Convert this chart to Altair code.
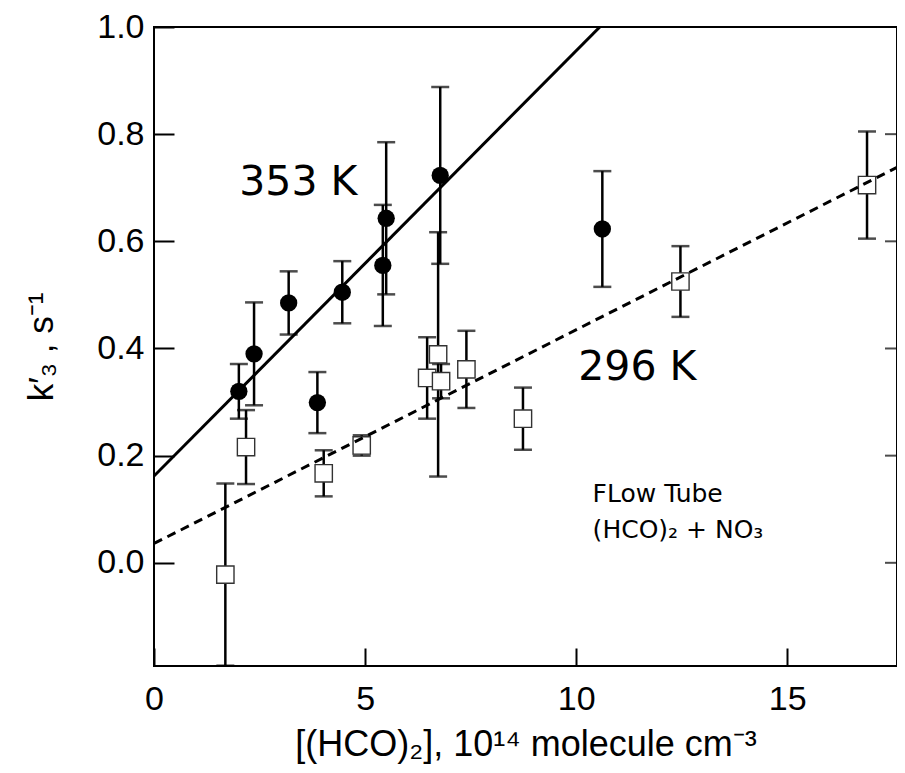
import altair as alt
import pandas as pd

# 353 K data (filled circles)
x353 = [2.01, 2.37, 3.19, 3.87, 4.46, 5.42, 5.50, 6.78, 10.62]
y353 = [0.320, 0.390, 0.485, 0.299, 0.505, 0.555, 0.643, 0.723, 0.623]
e353 = [0.051, 0.096, 0.059, 0.057, 0.058, 0.113, 0.142, 0.165, 0.108]

# 296 K data (open squares)
x296 = [1.69, 2.18, 4.02, 4.92, 6.47, 6.73, 6.80, 7.40, 8.74, 12.47, 16.89]
y296 = [-0.022, 0.216, 0.167, 0.219, 0.345, 0.389, 0.339, 0.361, 0.269, 0.525, 0.705]
e296 = [0.170, 0.069, 0.043, 0.019, 0.076, 0.228, 0.032, 0.072, 0.058, 0.066, 0.100]

# fitted lines (end points)
fit353_x = [0.0, 10.56]
fit353_y = [0.162, 1.0]
fit296_x = [0.0, 17.6]
fit296_y = [0.036, 0.738]

xticks = [0, 5, 10, 15]
yticks = [0.0, 0.2, 0.4, 0.6, 0.8, 1.0]

big_labels = ["353 K", "296 K"]
big_x = [3.42, 11.45]
big_y = [0.686, 0.341]

note_labels = ["FLow Tube", "(HCO)₂ + NO₃"]
note_x = [10.39, 10.39]
note_y = [0.1144, 0.0461]

XMAX = 17.6
YMIN, YMAX = -0.1926, 1.0

d353 = pd.DataFrame({"x": x353, "y": y353,
                     "lo": [a - b for a, b in zip(y353, e353)],
                     "hi": [a + b for a, b in zip(y353, e353)]})
d296 = pd.DataFrame({"x": x296, "y": y296,
                     "lo": [a - b for a, b in zip(y296, e296)],
                     "hi": [a + b for a, b in zip(y296, e296)]})
dfit353 = pd.DataFrame({"x": fit353_x, "y": fit353_y})
dfit296 = pd.DataFrame({"x": fit296_x, "y": fit296_y})
dbig = pd.DataFrame({"x": big_x, "y": big_y, "t": big_labels})
dnote = pd.DataFrame({"x": note_x, "y": note_y, "t": note_labels})
drt = pd.DataFrame({"x": [XMAX] * len(yticks), "y": yticks})

xs = alt.Scale(domain=[0, XMAX], nice=False, zero=False)
ys = alt.Scale(domain=[YMIN, YMAX], nice=False, zero=False)

FONT = "Liberation Sans"

xaxis = alt.Axis(orient="bottom", values=xticks, format="d", offset=-18, tickSize=18,
                 tickWidth=2, tickColor="black", domain=False, grid=False,
                 labelFont=FONT, labelFontSize=34, labelColor="black", labelPadding=16,
                 labelFlush=False, labelOverlap=False,
                 title="[(HCO)₂],  10¹⁴ molecule cm⁻³", titleFont=FONT, titleFontSize=36,
                 titleFontWeight="normal", titleColor="black", titlePadding=11)
yaxis = alt.Axis(orient="left", values=yticks, format=".1f", offset=-20, tickSize=20,
                 tickWidth=2, tickColor="black", domain=False, grid=False,
                 labelFont=FONT, labelFontSize=34, labelColor="black", labelPadding=10,
                 labelFlush=False, labelOverlap=False,
                 title="k′₃ , s⁻¹", titleFont=FONT, titleFontSize=35,
                 titleFontWeight="normal", titleColor="black", titlePadding=37)


def PX(field="x"):
    return alt.X(f"{field}:Q", scale=xs, axis=xaxis)


def PY(field="y"):
    return alt.Y(f"{field}:Q", scale=ys, axis=yaxis)


def errbars(df):
    base = alt.Chart(df)
    rule = base.mark_rule(color="black", strokeWidth=2.5, clip=True).encode(
        x=PX(), y=PY("lo"), y2="hi:Q")
    cap_lo = base.mark_tick(color="black", thickness=2.5, size=18, orient="horizontal",
                            clip=True).encode(x=PX(), y=PY("lo"))
    cap_hi = base.mark_tick(color="black", thickness=2.5, size=18, orient="horizontal",
                            clip=True).encode(x=PX(), y=PY("hi"))
    return [rule, cap_lo, cap_hi]


# inward ticks on the right edge
right_ticks = alt.Chart(drt).mark_tick(color="black", thickness=2, size=12,
                                       orient="horizontal", xOffset=-6, clip=True).encode(
    x=PX(), y=PY())

squares = alt.Chart(d296).mark_point(shape="square", size=300, filled=True, fill="white",
                                     stroke="#333333", strokeWidth=1.4, opacity=1).encode(
    x=PX(), y=PY())
circles = alt.Chart(d353).mark_point(shape="circle", size=300, filled=True, color="black",
                                     opacity=1).encode(x=PX(), y=PY())

line353 = alt.Chart(dfit353).mark_line(color="black", strokeWidth=3, clip=True).encode(
    x=PX(), y=PY())
line296 = alt.Chart(dfit296).mark_line(color="black", strokeWidth=3, strokeDash=[9, 6],
                                       clip=True).encode(x=PX(), y=PY())

big_text = alt.Chart(dbig).mark_text(font="DejaVu Sans", fontSize=41, align="center",
                                     baseline="alphabetic", color="black").encode(
    x=PX(), y=PY(), text="t:N")
note_text = alt.Chart(dnote).mark_text(font="DejaVu Sans", fontSize=25, align="left",
                                       baseline="alphabetic", color="black").encode(
    x=PX(), y=PY(), text="t:N")

layers = [right_ticks] + errbars(d296) + errbars(d353) + \
    [squares, circles, line296, line353, big_text, note_text]

chart = alt.layer(*layers).properties(
    width=743, height=639,
    padding={"left": 146, "top": 19, "right": 0, "bottom": 99},
    autosize=alt.AutoSizeParams(type="none"),
    background="white",
).configure_view(stroke="black", strokeWidth=2)

chart.save("out.html", embed_options={"renderer": "svg", "actions": False})
